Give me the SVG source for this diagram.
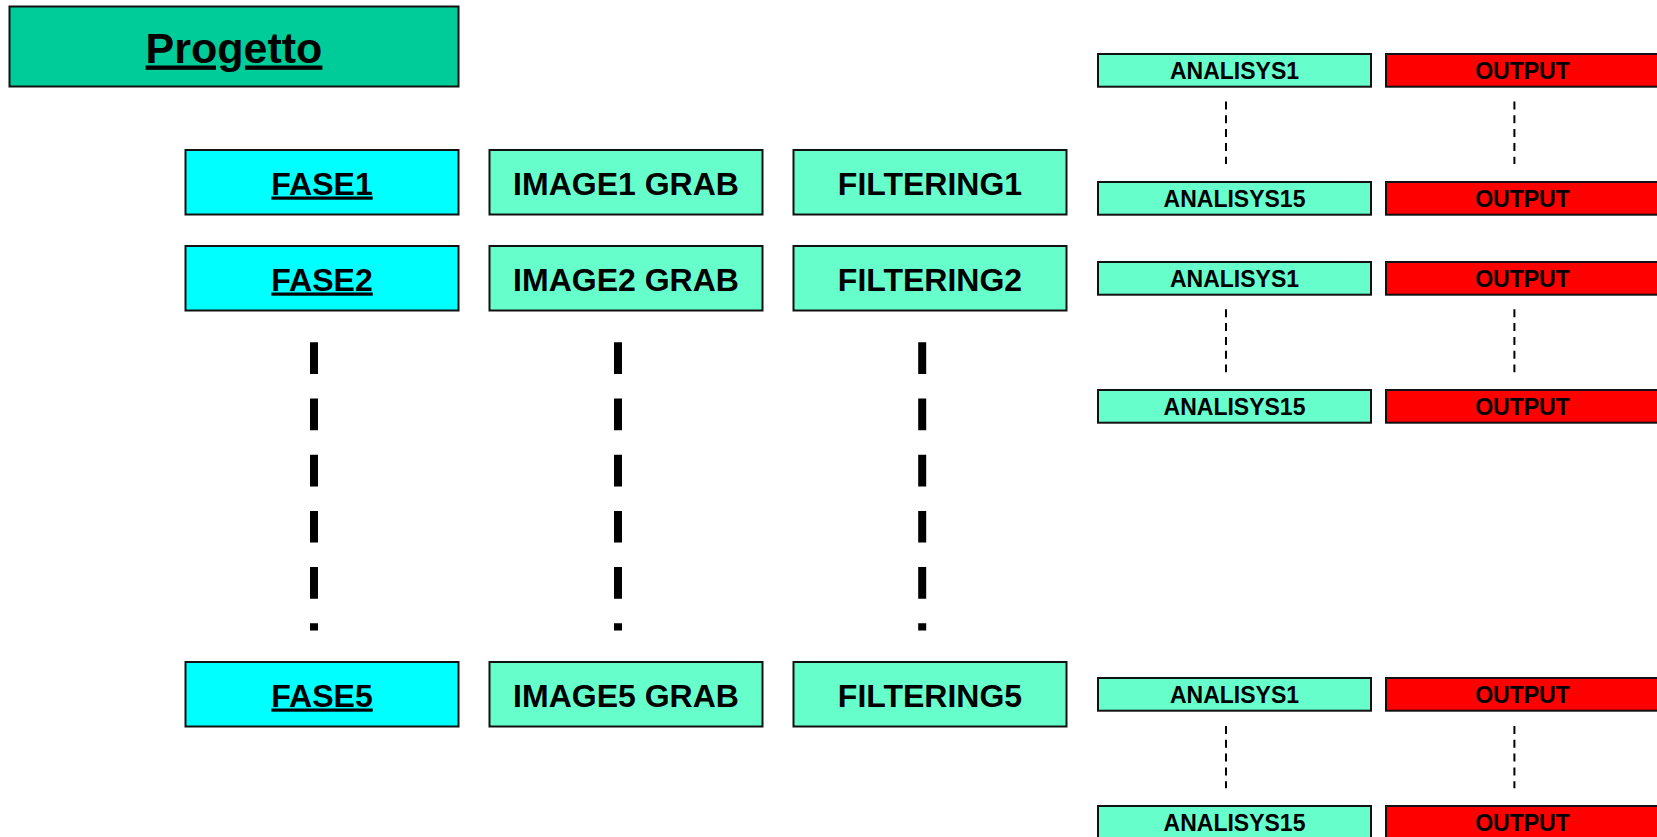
<svg xmlns="http://www.w3.org/2000/svg" width="1657" height="837" viewBox="0 0 1657 837">
<style>
  .box { stroke: #111; stroke-width: 2; }
  .top { fill: #00CC99; }
  .fase { fill: #00FFFF; }
  .mint { fill: #66FFCC; }
  .out { fill: #FF0000; }
  text { font-family: "Liberation Sans", Arial, sans-serif; font-weight: bold; fill: #000; text-anchor: middle; }
  .big { font-size: 43px; text-decoration: underline; text-decoration-thickness: 4.5px; text-underline-offset: 5px; }
  .lbl { font-size: 32px; }
  .ul { text-decoration: underline; text-decoration-thickness: 3.5px; text-underline-offset: 3px; }
  .sm { font-size: 23px; }
  .thick { stroke: #000; stroke-width: 8; stroke-dasharray: 31.7 24.5; fill: none; }
  .thin { stroke: #000; stroke-width: 2; stroke-dasharray: 8 5.8; fill: none; }
</style>
<rect width="1657" height="837" fill="#fff"/>

<g id="progetto">
  <rect class="box top" x="9.5" y="6.5" width="449" height="80"/>
  <text class="big" x="234" y="62.5">Progetto</text>
</g>

<g id="fase1">
  <rect class="box fase" x="185.5" y="150" width="273" height="64.5"/>
  <text class="lbl ul" x="322" y="194.5">FASE1</text>
</g>
<g id="image1">
  <rect class="box mint" x="489.5" y="150" width="273" height="64.5"/>
  <text class="lbl" x="626" y="194.5">IMAGE1 GRAB</text>
</g>
<g id="filtering1">
  <rect class="box mint" x="793.5" y="150" width="273" height="64.5"/>
  <text class="lbl" x="930" y="194.5">FILTERING1</text>
</g>

<g id="fase2">
  <rect class="box fase" x="185.5" y="246" width="273" height="64.5"/>
  <text class="lbl ul" x="322" y="290.5">FASE2</text>
</g>
<g id="image2">
  <rect class="box mint" x="489.5" y="246" width="273" height="64.5"/>
  <text class="lbl" x="626" y="290.5">IMAGE2 GRAB</text>
</g>
<g id="filtering2">
  <rect class="box mint" x="793.5" y="246" width="273" height="64.5"/>
  <text class="lbl" x="930" y="290.5">FILTERING2</text>
</g>

<g id="fase5">
  <rect class="box fase" x="185.5" y="662" width="273" height="64.5"/>
  <text class="lbl ul" x="322" y="706.5">FASE5</text>
</g>
<g id="image5">
  <rect class="box mint" x="489.5" y="662" width="273" height="64.5"/>
  <text class="lbl" x="626" y="706.5">IMAGE5 GRAB</text>
</g>
<g id="filtering5">
  <rect class="box mint" x="793.5" y="662" width="273" height="64.5"/>
  <text class="lbl" x="930" y="706.5">FILTERING5</text>
</g>

<g id="analisys1-a">
  <rect class="box mint" x="1098" y="54" width="273" height="32.7"/>
  <text class="sm" x="1234.5" y="78.5">ANALISYS1</text>
</g>
<g id="output-a1">
  <rect class="box out" x="1386" y="54" width="273" height="32.7"/>
  <text class="sm" x="1522.5" y="78.5">OUTPUT</text>
</g>
<g id="analisys15-a">
  <rect class="box mint" x="1098" y="182" width="273" height="32.7"/>
  <text class="sm" x="1234.5" y="206.5">ANALISYS15</text>
</g>
<g id="output-a15">
  <rect class="box out" x="1386" y="182" width="273" height="32.7"/>
  <text class="sm" x="1522.5" y="206.5">OUTPUT</text>
</g>

<g id="analisys1-b">
  <rect class="box mint" x="1098" y="262" width="273" height="32.7"/>
  <text class="sm" x="1234.5" y="286.5">ANALISYS1</text>
</g>
<g id="output-b1">
  <rect class="box out" x="1386" y="262" width="273" height="32.7"/>
  <text class="sm" x="1522.5" y="286.5">OUTPUT</text>
</g>
<g id="analisys15-b">
  <rect class="box mint" x="1098" y="390" width="273" height="32.7"/>
  <text class="sm" x="1234.5" y="414.5">ANALISYS15</text>
</g>
<g id="output-b15">
  <rect class="box out" x="1386" y="390" width="273" height="32.7"/>
  <text class="sm" x="1522.5" y="414.5">OUTPUT</text>
</g>

<g id="analisys1-c">
  <rect class="box mint" x="1098" y="678" width="273" height="32.7"/>
  <text class="sm" x="1234.5" y="702.5">ANALISYS1</text>
</g>
<g id="output-c1">
  <rect class="box out" x="1386" y="678" width="273" height="32.7"/>
  <text class="sm" x="1522.5" y="702.5">OUTPUT</text>
</g>
<g id="analisys15-c">
  <rect class="box mint" x="1098" y="806" width="273" height="32.7"/>
  <text class="sm" x="1234.5" y="830.5">ANALISYS15</text>
</g>
<g id="output-c15">
  <rect class="box out" x="1386" y="806" width="273" height="32.7"/>
  <text class="sm" x="1522.5" y="830.5">OUTPUT</text>
</g>

<g id="connectors">
  <line class="thick" x1="314" y1="342.3" x2="314" y2="630.5"/>
  <line class="thick" x1="618" y1="342.3" x2="618" y2="630.5"/>
  <line class="thick" x1="922.2" y1="342.3" x2="922.2" y2="630.5"/>
  <line class="thin" x1="1226" y1="101.5" x2="1226" y2="164"/>
  <line class="thin" x1="1514.4" y1="101.5" x2="1514.4" y2="164"/>
  <line class="thin" x1="1226" y1="309.3" x2="1226" y2="372.3"/>
  <line class="thin" x1="1514.4" y1="309.3" x2="1514.4" y2="372.3"/>
  <line class="thin" x1="1226" y1="726" x2="1226" y2="788.3"/>
  <line class="thin" x1="1514.4" y1="726" x2="1514.4" y2="788.3"/>
</g>
</svg>
